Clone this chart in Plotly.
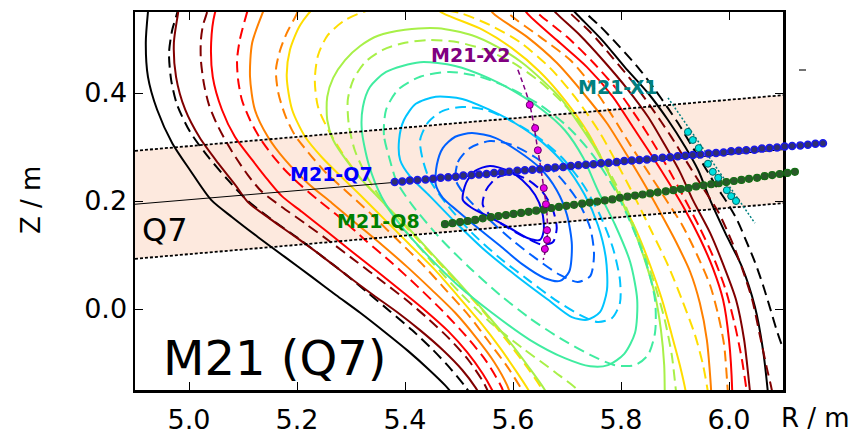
import plotly.graph_objects as go

# ---------------- data (R, Z in metres) ----------------
x_ticks = [5.0, 5.2, 5.4, 5.6, 5.8, 6.0]
x_tick_text = ["5.0", "5.2", "5.4", "5.6", "5.8", "6.0"]
y_ticks = [0.0, 0.2, 0.4]
y_tick_text = ["0.0", "0.2", "0.4"]

band_R = [4.9, 6.1]
band_top_Z = [0.293, 0.396]
band_mid_Z = [0.194, 0.295]
band_bot_Z = [0.093, 0.196]

# flux surfaces: solid = reference equilibrium, dashed = second equilibrium
black_solid = [
    [(4.931, 0.609), (4.924, 0.550), (4.920, 0.493), (4.924, 0.430), (4.941, 0.369), (4.969, 0.307),
     (5.002, 0.257), (5.041, 0.202), (5.080, 0.170), (5.128, 0.133), (5.178, 0.096), (5.228, 0.059),
     (5.272, 0.026), (5.317, -0.007), (5.363, -0.043), (5.406, -0.078), (5.443, -0.111), (5.474, -0.141),
     (5.498, -0.169)],
    [(5.698, 0.567), (5.720, 0.544), (5.765, 0.498), (5.807, 0.448), (5.850, 0.400), (5.887, 0.350),
     (5.919, 0.300), (5.943, 0.257), (5.965, 0.202), (5.993, 0.141), (6.024, 0.078), (6.048, 0.004),
     (6.063, -0.076), (6.072, -0.154), (6.074, -0.178)],
]
black_dashed = [
    [(4.985, 0.591), (4.978, 0.548), (4.969, 0.517), (4.963, 0.474), (4.967, 0.424), (4.978, 0.378),
     (5.002, 0.328), (5.033, 0.285), (5.072, 0.239), (5.107, 0.202), (5.154, 0.165), (5.202, 0.131),
     (5.246, 0.098), (5.289, 0.065), (5.330, 0.031), (5.372, -0.004), (5.413, -0.039), (5.450, -0.074),
     (5.483, -0.109), (5.511, -0.143), (5.530, -0.169)],
    [(5.720, 0.567), (5.739, 0.544), (5.761, 0.524), (5.798, 0.485), (5.835, 0.443), (5.863, 0.406),
     (5.887, 0.372), (5.909, 0.339), (5.931, 0.302), (5.954, 0.265), (5.976, 0.228), (5.996, 0.198),
     (6.015, 0.165), (6.031, 0.128), (6.048, 0.087), (6.063, 0.044), (6.076, 0.002), (6.087, -0.035),
     (6.098, -0.067), (6.113, -0.098)],
]
darkred_solid = [
    [(4.985, 0.591), (4.980, 0.550), (4.972, 0.493), (4.976, 0.430), (4.993, 0.369), (5.020, 0.317),
     (5.054, 0.270), (5.087, 0.228), (5.109, 0.198), (5.150, 0.167), (5.198, 0.133), (5.246, 0.098),
     (5.294, 0.061), (5.341, 0.026), (5.387, -0.007), (5.430, -0.041), (5.470, -0.076), (5.506, -0.113),
     (5.531, -0.146), (5.546, -0.172)],
    [(5.659, 0.572), (5.680, 0.548), (5.724, 0.507), (5.770, 0.457), (5.813, 0.406), (5.850, 0.356),
     (5.881, 0.304), (5.909, 0.254), (5.933, 0.202), (5.965, 0.141), (5.991, 0.078), (6.013, 0.017),
     (6.028, -0.057), (6.039, -0.154), (6.041, -0.172)],
]
darkred_dashed = [
    [(5.039, 0.581), (5.033, 0.548), (5.026, 0.526), (5.022, 0.498), (5.022, 0.461), (5.028, 0.415),
     (5.037, 0.378), (5.050, 0.346), (5.067, 0.313), (5.087, 0.280), (5.109, 0.248), (5.135, 0.217),
     (5.172, 0.189), (5.217, 0.157), (5.265, 0.122), (5.311, 0.087), (5.357, 0.052), (5.402, 0.017),
     (5.444, -0.019), (5.483, -0.056), (5.517, -0.094), (5.546, -0.137), (5.561, -0.169)],
    [(5.687, 0.569), (5.706, 0.548), (5.743, 0.513), (5.783, 0.467), (5.822, 0.420), (5.857, 0.372),
     (5.891, 0.322), (5.922, 0.272), (5.952, 0.224), (5.980, 0.180), (6.004, 0.128), (6.024, 0.076),
     (6.043, 0.017), (6.057, -0.048), (6.070, -0.109), (6.080, -0.154), (6.081, -0.172)],
]
red_solid = [
    [(5.061, 0.581), (5.048, 0.548), (5.041, 0.493), (5.044, 0.430), (5.061, 0.369), (5.085, 0.319),
     (5.117, 0.276), (5.146, 0.239), (5.172, 0.209), (5.209, 0.180), (5.256, 0.143), (5.302, 0.106),
     (5.348, 0.070), (5.394, 0.033), (5.439, -0.004), (5.480, -0.041), (5.515, -0.080), (5.544, -0.120),
     (5.565, -0.157), (5.572, -0.172)],
    [(5.613, 0.569), (5.626, 0.548), (5.681, 0.498), (5.737, 0.448), (5.785, 0.393), (5.822, 0.337),
     (5.859, 0.281), (5.891, 0.230), (5.919, 0.183), (5.946, 0.131), (5.970, 0.076), (5.989, 0.017),
     (6.000, -0.057), (6.006, -0.154), (6.006, -0.172)],
]
red_dashed = [
    [(5.117, 0.581), (5.106, 0.544), (5.094, 0.498), (5.089, 0.461), (5.091, 0.424), (5.098, 0.387),
     (5.113, 0.350), (5.131, 0.317), (5.154, 0.285), (5.178, 0.257), (5.206, 0.230), (5.239, 0.202),
     (5.280, 0.169), (5.326, 0.128), (5.376, 0.085), (5.424, 0.041), (5.470, -0.004), (5.513, -0.050),
     (5.550, -0.096), (5.578, -0.143), (5.589, -0.172)],
    [(5.628, 0.569), (5.646, 0.548), (5.700, 0.504), (5.748, 0.457), (5.793, 0.406), (5.830, 0.354),
     (5.863, 0.302), (5.893, 0.250), (5.919, 0.202), (5.946, 0.150), (5.972, 0.094), (5.994, 0.035),
     (6.011, -0.030), (6.024, -0.094), (6.033, -0.154), (6.035, -0.172)],
]
orange_solid = [
    [(5.150, 0.581), (5.137, 0.550), (5.117, 0.493), (5.113, 0.430), (5.122, 0.369), (5.146, 0.319),
     (5.178, 0.276), (5.220, 0.233), (5.265, 0.196), (5.309, 0.159), (5.357, 0.119), (5.404, 0.078),
     (5.450, 0.035), (5.493, -0.007), (5.531, -0.052), (5.565, -0.098), (5.589, -0.141), (5.600, -0.172)],
    [(5.550, 0.569), (5.563, 0.548), (5.626, 0.504), (5.681, 0.456), (5.730, 0.400), (5.774, 0.344),
     (5.811, 0.285), (5.844, 0.230), (5.872, 0.180), (5.902, 0.124), (5.928, 0.069), (5.946, 0.011),
     (5.959, -0.057), (5.967, -0.154), (5.967, -0.172)],
]
orange_dashed = [
    [(5.209, 0.581), (5.200, 0.548), (5.181, 0.511), (5.169, 0.480), (5.161, 0.443), (5.165, 0.402),
     (5.178, 0.359), (5.196, 0.322), (5.220, 0.291), (5.252, 0.254), (5.289, 0.220), (5.335, 0.178),
     (5.383, 0.131), (5.430, 0.085), (5.476, 0.035), (5.519, -0.013), (5.557, -0.063), (5.591, -0.109),
     (5.619, -0.154), (5.628, -0.172)],
    [(5.576, 0.569), (5.591, 0.548), (5.650, 0.504), (5.706, 0.461), (5.748, 0.411), (5.783, 0.359),
     (5.817, 0.304), (5.850, 0.254), (5.881, 0.206), (5.913, 0.156), (5.941, 0.100), (5.965, 0.044),
     (5.980, -0.011), (5.991, -0.067), (5.998, -0.154), (6.000, -0.172)],
]
yellow_solid = [
    [(5.641, -0.172), (5.631, -0.154), (5.607, -0.117), (5.576, -0.072), (5.539, -0.024), (5.498, 0.024),
     (5.456, 0.072), (5.409, 0.119), (5.363, 0.165), (5.317, 0.211), (5.283, 0.244), (5.246, 0.281),
     (5.215, 0.319), (5.191, 0.369), (5.181, 0.430), (5.187, 0.480), (5.206, 0.526), (5.237, 0.563),
     (5.289, 0.587), (5.354, 0.594), (5.419, 0.581), (5.470, 0.548), (5.544, 0.517), (5.598, 0.483),
     (5.650, 0.439), (5.696, 0.387), (5.739, 0.326), (5.770, 0.267), (5.798, 0.207), (5.828, 0.146),
     (5.854, 0.081), (5.876, 0.017), (5.894, -0.048), (5.909, -0.104), (5.920, -0.154), (5.922, -0.172)],
]
yellow_dashed = [
    [(5.663, -0.172), (5.652, -0.146), (5.622, -0.102), (5.585, -0.054), (5.543, -0.002), (5.496, 0.050),
     (5.448, 0.102), (5.400, 0.154), (5.356, 0.202), (5.317, 0.243), (5.289, 0.281), (5.261, 0.326),
     (5.239, 0.374), (5.233, 0.424), (5.239, 0.470), (5.257, 0.507), (5.289, 0.535), (5.335, 0.554),
     (5.391, 0.561), (5.446, 0.557), (5.502, 0.548), (5.557, 0.526), (5.613, 0.494), (5.669, 0.446),
     (5.719, 0.387), (5.761, 0.326), (5.794, 0.267), (5.826, 0.206), (5.857, 0.143), (5.887, 0.081),
     (5.913, 0.017), (5.937, -0.048), (5.952, -0.104), (5.961, -0.154), (5.963, -0.172)],
]
greenyellow_solid = [
    [(5.669, -0.172), (5.659, -0.150), (5.628, -0.106), (5.591, -0.057), (5.548, -0.006), (5.502, 0.046),
     (5.454, 0.098), (5.406, 0.150), (5.359, 0.198), (5.320, 0.239), (5.291, 0.276), (5.267, 0.313),
     (5.256, 0.350), (5.256, 0.393), (5.267, 0.428), (5.289, 0.461), (5.317, 0.487), (5.350, 0.506),
     (5.400, 0.517), (5.461, 0.520), (5.524, 0.507), (5.572, 0.485), (5.617, 0.456), (5.654, 0.424),
     (5.691, 0.387), (5.720, 0.346), (5.748, 0.304), (5.774, 0.257), (5.798, 0.207), (5.822, 0.152),
     (5.844, 0.091), (5.863, 0.026), (5.874, -0.039), (5.880, -0.104), (5.881, -0.154), (5.881, -0.172)],
]
greenyellow_dashed = [
    [(5.733, -0.172), (5.724, -0.154), (5.678, -0.117), (5.617, -0.072), (5.557, -0.024), (5.502, 0.030),
     (5.450, 0.087), (5.400, 0.146), (5.357, 0.202), (5.328, 0.248), (5.307, 0.294), (5.296, 0.341),
     (5.294, 0.387), (5.304, 0.424), (5.326, 0.457), (5.359, 0.480), (5.400, 0.493), (5.446, 0.498),
     (5.498, 0.494), (5.548, 0.480), (5.598, 0.457), (5.646, 0.424), (5.691, 0.383), (5.730, 0.337),
     (5.761, 0.285), (5.791, 0.230), (5.817, 0.170), (5.841, 0.109), (5.863, 0.044), (5.881, -0.020),
     (5.894, -0.085), (5.902, -0.154), (5.904, -0.172)],
]
aqua_solid = [
    [(5.320, 0.331), (5.322, 0.374), (5.335, 0.411), (5.365, 0.439), (5.428, 0.457), (5.493, 0.450),
     (5.554, 0.428), (5.604, 0.402), (5.654, 0.369), (5.696, 0.331), (5.730, 0.280), (5.757, 0.220),
     (5.789, 0.156), (5.817, 0.087), (5.830, 0.017), (5.826, -0.044), (5.806, -0.083), (5.776, -0.104),
     (5.743, -0.106), (5.696, -0.091), (5.631, -0.057), (5.561, -0.007), (5.498, 0.044), (5.443, 0.098),
     (5.394, 0.152), (5.357, 0.207), (5.333, 0.267), (5.320, 0.331)],
]
aqua_dashed = [
    [(5.372, 0.276), (5.361, 0.322), (5.365, 0.369), (5.387, 0.406), (5.428, 0.430), (5.483, 0.439),
     (5.539, 0.430), (5.594, 0.409), (5.650, 0.378), (5.702, 0.337), (5.748, 0.285), (5.789, 0.220),
     (5.822, 0.150), (5.848, 0.081), (5.863, 0.017), (5.863, -0.044), (5.850, -0.085), (5.826, -0.104),
     (5.789, -0.104), (5.743, -0.085), (5.687, -0.054), (5.631, -0.017), (5.576, 0.026), (5.520, 0.076),
     (5.465, 0.131), (5.413, 0.193), (5.385, 0.235), (5.372, 0.276)],
]
skyblue_solid = [
    [(5.391, 0.276), (5.389, 0.313), (5.398, 0.350), (5.420, 0.380), (5.457, 0.393), (5.506, 0.389),
     (5.554, 0.370), (5.604, 0.344), (5.654, 0.309), (5.696, 0.267), (5.733, 0.211), (5.757, 0.156),
     (5.772, 0.094), (5.774, 0.035), (5.761, -0.006), (5.737, -0.020), (5.709, -0.015), (5.665, 0.017),
     (5.604, 0.063), (5.543, 0.113), (5.493, 0.161), (5.446, 0.209), (5.409, 0.246), (5.391, 0.276)],
]
skyblue_dashed = [
    [(5.433, 0.276), (5.428, 0.313), (5.443, 0.346), (5.470, 0.367), (5.506, 0.374), (5.548, 0.369),
     (5.594, 0.350), (5.644, 0.320), (5.691, 0.280), (5.730, 0.230), (5.761, 0.174), (5.785, 0.113),
     (5.798, 0.054), (5.798, 0.011), (5.783, -0.017), (5.757, -0.024), (5.724, -0.011), (5.678, 0.017),
     (5.628, 0.054), (5.576, 0.094), (5.524, 0.141), (5.478, 0.193), (5.446, 0.239), (5.433, 0.276)],
]
blue_solid = [
    [(5.457, 0.230), (5.459, 0.267), (5.470, 0.298), (5.493, 0.319), (5.524, 0.326), (5.567, 0.317),
     (5.607, 0.294), (5.650, 0.261), (5.681, 0.220), (5.700, 0.174), (5.709, 0.119), (5.704, 0.069),
     (5.687, 0.052), (5.659, 0.057), (5.617, 0.083), (5.576, 0.117), (5.535, 0.150), (5.498, 0.181),
     (5.470, 0.206), (5.457, 0.230)],
]
blue_dashed = [
    [(5.494, 0.239), (5.498, 0.272), (5.520, 0.298), (5.557, 0.311), (5.598, 0.304), (5.641, 0.281),
     (5.683, 0.248), (5.719, 0.202), (5.743, 0.150), (5.750, 0.100), (5.743, 0.061), (5.720, 0.050),
     (5.687, 0.063), (5.646, 0.091), (5.598, 0.128), (5.552, 0.169), (5.515, 0.206), (5.494, 0.239)],
]
darkblue_solid = [
    [(5.507, 0.202), (5.513, 0.233), (5.530, 0.256), (5.557, 0.265), (5.589, 0.257), (5.617, 0.239),
     (5.641, 0.211), (5.654, 0.180), (5.657, 0.146), (5.650, 0.128), (5.628, 0.131), (5.594, 0.150),
     (5.557, 0.170), (5.524, 0.187), (5.507, 0.202)],
]
darkblue_dashed = [
    [(5.544, 0.193), (5.550, 0.220), (5.570, 0.243), (5.598, 0.250), (5.628, 0.239), (5.656, 0.215),
     (5.674, 0.183), (5.681, 0.150), (5.674, 0.124), (5.654, 0.119), (5.626, 0.131), (5.591, 0.150),
     (5.561, 0.170), (5.544, 0.193)],
]

surface_colors = ["#000000", "#800000", "#ff0000", "#ff8000", "#ffdd00",
                  "#a8f048", "#40eca0", "#00c4ff", "#0060ff", "#0000ee"]

# diagnostic channels
q7_R = [5.381, 5.395, 5.409, 5.423, 5.438, 5.452, 5.466, 5.480, 5.494, 5.508, 5.523, 5.537, 5.551,
        5.565, 5.579, 5.593, 5.608, 5.622, 5.636, 5.650, 5.664, 5.678, 5.693, 5.707, 5.721, 5.735,
        5.749, 5.763, 5.777, 5.792, 5.806, 5.820, 5.834, 5.848, 5.862, 5.877, 5.891, 5.905, 5.919,
        5.933, 5.947, 5.962, 5.976, 5.990, 6.004, 6.018, 6.032, 6.047, 6.061, 6.075, 6.089, 6.103,
        6.117, 6.132, 6.146, 6.160, 6.174]
q7_Z = [0.235, 0.236, 0.238, 0.239, 0.240, 0.241, 0.243, 0.244, 0.245, 0.247, 0.248, 0.249, 0.250,
        0.252, 0.253, 0.254, 0.256, 0.257, 0.258, 0.259, 0.261, 0.262, 0.263, 0.265, 0.266, 0.267,
        0.268, 0.270, 0.271, 0.272, 0.274, 0.275, 0.276, 0.277, 0.279, 0.280, 0.281, 0.283, 0.284,
        0.285, 0.286, 0.288, 0.289, 0.290, 0.292, 0.293, 0.294, 0.295, 0.297, 0.298, 0.299, 0.301,
        0.302, 0.303, 0.304, 0.306, 0.307]
q8_R = [5.474, 5.488, 5.502, 5.516, 5.530, 5.544, 5.559, 5.573, 5.587, 5.601, 5.615, 5.629, 5.643,
        5.657, 5.671, 5.685, 5.699, 5.713, 5.728, 5.742, 5.756, 5.770, 5.784, 5.798, 5.812, 5.826,
        5.840, 5.854, 5.868, 5.883, 5.897, 5.911, 5.925, 5.939, 5.953, 5.967, 5.981, 5.995, 6.009,
        6.023, 6.037, 6.052, 6.066, 6.080, 6.094, 6.108, 6.122]
q8_Z = [0.157, 0.159, 0.161, 0.163, 0.165, 0.168, 0.170, 0.172, 0.174, 0.176, 0.178, 0.180, 0.182,
        0.184, 0.187, 0.189, 0.191, 0.193, 0.195, 0.197, 0.199, 0.201, 0.203, 0.206, 0.208, 0.210,
        0.212, 0.214, 0.216, 0.218, 0.220, 0.222, 0.224, 0.227, 0.229, 0.231, 0.233, 0.235, 0.237,
        0.239, 0.241, 0.243, 0.246, 0.248, 0.250, 0.252, 0.254]
x2_line_R = [5.609, 5.631, 5.646, 5.657, 5.663, 5.663, 5.656]
x2_line_Z = [0.443, 0.378, 0.294, 0.224, 0.174, 0.128, 0.091]
x2_R = [5.631, 5.641, 5.646, 5.657, 5.661, 5.663, 5.663, 5.659]
x2_Z = [0.378, 0.335, 0.294, 0.224, 0.194, 0.146, 0.128, 0.111]
x1_line_R = [5.887, 6.048]
x1_line_Z = [0.391, 0.159]
x1_R = [5.924, 5.933, 5.944, 5.961, 5.970, 5.980, 5.996, 6.004, 6.013]
x1_Z = [0.328, 0.313, 0.298, 0.269, 0.254, 0.243, 0.220, 0.209, 0.200]

FONT = "DejaVu Sans"

# ---------------- geometry of the figure ----------------
R_MIN, R_MAX = 4.9, 6.1
Z_MIN, Z_MAX = -0.15, 0.55
M_L, M_R, M_T, M_B = 135, 8, 12, 45
W, H = 850, 435
paper_w = W - M_L - M_R
axes_w = 648
x_dom = axes_w / paper_w
R_MAX2 = R_MIN + (R_MAX - R_MIN) * paper_w / axes_w


def branches_to_xy(branches):
    xs, ys = [], []
    for i, br in enumerate(branches):
        if i:
            xs.append(None)
            ys.append(None)
        xs += [p[0] for p in br]
        ys += [p[1] for p in br]
    return xs, ys


fig = go.Figure()

# Q7 field-of-view band
fig.add_trace(go.Scatter(x=band_R + band_R[::-1], y=band_top_Z + band_bot_Z[::-1], fill="toself",
                         fillcolor="#fde9de", line=dict(width=0), mode="lines", hoverinfo="skip",
                         showlegend=False))

solids = [black_solid, darkred_solid, red_solid, orange_solid, yellow_solid,
          greenyellow_solid, aqua_solid, skyblue_solid, blue_solid, darkblue_solid]
dasheds = [black_dashed, darkred_dashed, red_dashed, orange_dashed, yellow_dashed,
           greenyellow_dashed, aqua_dashed, skyblue_dashed, blue_dashed, darkblue_dashed]

for col, s, d in zip(surface_colors, solids, dasheds):
    xs, ys = branches_to_xy(s)
    fig.add_trace(go.Scatter(x=xs, y=ys, mode="lines", showlegend=False, hoverinfo="skip",
                             line=dict(color=col, width=2, shape="spline", smoothing=0.75)))
    xs, ys = branches_to_xy(d)
    fig.add_trace(go.Scatter(x=xs, y=ys, mode="lines", showlegend=False, hoverinfo="skip",
                             line=dict(color=col, width=2, dash="11px,6px", shape="spline",
                                       smoothing=0.75)))

# band edges and centre line
for zz in (band_top_Z, band_bot_Z):
    fig.add_trace(go.Scatter(x=band_R, y=zz, mode="lines", showlegend=False, hoverinfo="skip",
                             line=dict(color="black", width=1.8, dash="3px,2px")))
fig.add_trace(go.Scatter(x=band_R, y=band_mid_Z, mode="lines", showlegend=False, hoverinfo="skip",
                         line=dict(color="black", width=1)))

# X2 and X1 sight lines
fig.add_trace(go.Scatter(x=x2_line_R, y=x2_line_Z, mode="lines", showlegend=False, hoverinfo="skip",
                         line=dict(color="#800080", width=1.5, dash="5px,3px", shape="spline")))
fig.add_trace(go.Scatter(x=x1_line_R, y=x1_line_Z, mode="lines", showlegend=False, hoverinfo="skip",
                         line=dict(color="#008080", width=1.5, dash="2px,2px")))

# channel markers on an overlay subplot that extends past the right frame
mk = dict(mode="markers", showlegend=False, xaxis="x2", yaxis="y2", hoverinfo="skip")
fig.add_trace(go.Scatter(x=q7_R, y=q7_Z, **mk,
                         marker=dict(size=7, color="rgb(48,48,112)",
                                     line=dict(color="rgb(25,25,235)", width=1.5))))
fig.add_trace(go.Scatter(x=q8_R, y=q8_Z, **mk,
                         marker=dict(size=7, color="rgb(42,88,42)",
                                     line=dict(color="rgb(20,110,20)", width=1.2))))
fig.add_trace(go.Scatter(x=x2_R, y=x2_Z, **mk,
                         marker=dict(size=7, color="#e600e6", line=dict(color="#600060", width=1))))
fig.add_trace(go.Scatter(x=x1_R, y=x1_Z, **mk,
                         marker=dict(size=7, color="#00e0e0", line=dict(color="#006666", width=1))))

labels = [
    ("M21-Q7", 5.263, 0.250, "#0000ff"),
    ("M21-Q8", 5.350, 0.163, "#008000"),
    ("M21-X2", 5.522, 0.470, "#800080"),
    ("M21-X1", 5.794, 0.411, "#008080"),
]
for txt, xx, yy, col in labels:
    fig.add_annotation(x=xx, y=yy, text="<b>%s</b>" % txt, showarrow=False,
                       font=dict(family=FONT, size=19, color=col), xanchor="center", yanchor="middle")

fig.add_annotation(x=4.956, y=0.146, text="Q7", showarrow=False, xanchor="center", yanchor="middle",
                   font=dict(family=FONT, size=32, color="black"))
fig.add_annotation(x=5.159, y=-0.091, text="M21 (Q7)", showarrow=False, xanchor="center",
                   yanchor="middle", font=dict(family=FONT, size=48, color="black"))


def px_x(px):
    return (px - 135) / paper_w


def px_y(py):
    return (390 - py) / 378


fig.add_annotation(xref="paper", yref="paper", x=px_x(31), y=px_y(200), text="Z / m", textangle=-90,
                   xanchor="center", yanchor="middle",
                   showarrow=False, font=dict(family=FONT, size=26, color="black"))
fig.add_annotation(xref="paper", yref="paper", x=px_x(815), y=px_y(418), text="R / m",
                   xanchor="center", yanchor="middle",
                   showarrow=False, font=dict(family=FONT, size=26, color="black"))

fig.add_shape(type="line", xref="paper", yref="paper", x0=px_x(799), x1=px_x(806), y0=px_y(70),
              y1=px_y(70), line=dict(color="#444444", width=1.5))

axis_common = dict(showline=True, linewidth=2.5, linecolor="black", mirror="ticks", ticks="inside",
                   ticklen=8, tickwidth=1, tickcolor="black", showgrid=False, zeroline=False,
                   automargin=False,
                   tickfont=dict(family=FONT, size=27, color="black"), fixedrange=True)

fig.update_layout(
    template="none",
    width=W, height=H,
    margin=dict(l=M_L, r=M_R, t=M_T, b=M_B, autoexpand=False),
    paper_bgcolor="white", plot_bgcolor="rgba(0,0,0,0)",
    xaxis=dict(range=[R_MIN, R_MAX], domain=[0, x_dom], tickvals=x_ticks, ticktext=x_tick_text,
               ticklabelstandoff=4, **axis_common),
    yaxis=dict(range=[Z_MIN, Z_MAX], domain=[0, 1], tickvals=y_ticks, ticktext=y_tick_text,
               **axis_common),
    xaxis2=dict(range=[R_MIN, R_MAX2], domain=[0, 1], anchor="y2", visible=False, fixedrange=True,
                automargin=False),
    yaxis2=dict(range=[Z_MIN, Z_MAX], domain=[0, 1], anchor="x2", visible=False, fixedrange=True,
                automargin=False),
    font=dict(family=FONT),
    hovermode=False,
)

fig.write_html("out.html", config={"displayModeBar": False, "staticPlot": True},
               post_script="document.body.style.margin='0';document.body.style.overflow='hidden';")
